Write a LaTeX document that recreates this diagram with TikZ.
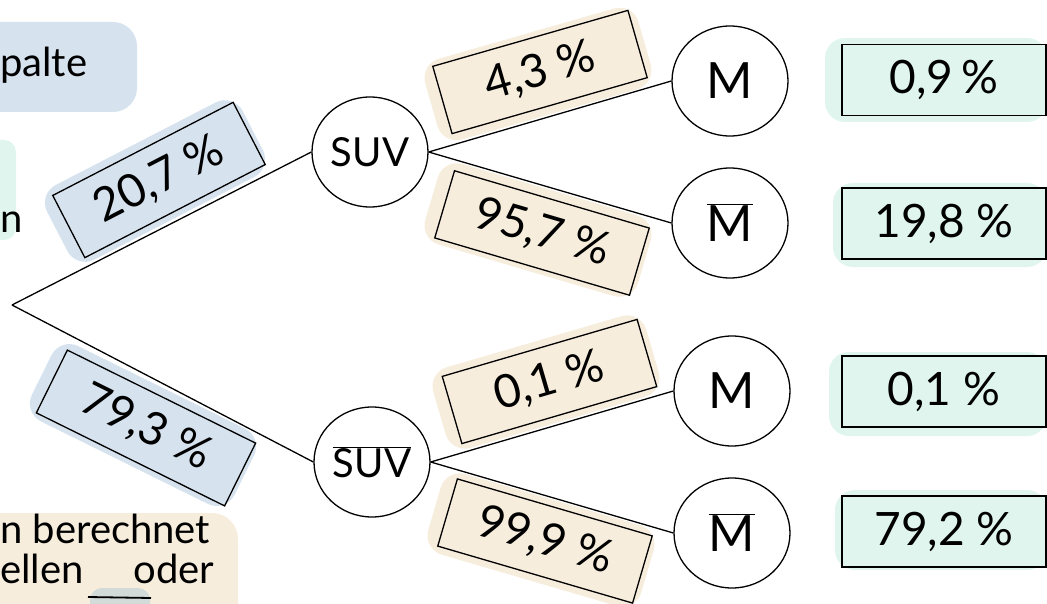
\documentclass[tikz,border=0pt]{standalone}
\usepackage{fontspec}
\setmainfont{Lato}
\usetikzlibrary{shapes.geometric}
\definecolor{blueblob}{HTML}{D6E2EE}
\definecolor{beigeblob}{HTML}{F6EDDD}
\definecolor{mintblob}{HTML}{DFF5EE}
\definecolor{grayblob}{HTML}{D2DBD8}
\begin{document}
\begin{tikzpicture}[x=1pt,y=-1pt,
  state/.style={ellipse, draw, line width=1.3pt, minimum width=116pt, minimum height=110pt, inner sep=0pt, font=\fontsize{40}{44}\selectfont},
  letter/.style={state, font=\fontsize{50}{54}\selectfont},
  probbox/.style={rectangle, draw, line width=1.3pt, minimum width=203pt, minimum height=70pt, inner sep=0pt, font=\fontsize{46}{50}\selectfont},
  resbox/.style={rectangle, draw, line width=1.4pt, minimum width=204pt, minimum height=71pt, inner sep=0pt, fill=mintblob, font=\fontsize{46}{50}\selectfont},
  blob/.style={rounded corners=20pt},
  note/.style={font=\fontsize{40}{44}\selectfont, inner sep=0pt},
  conn/.style={line width=1.3pt}
]
\useasboundingbox (0,0) rectangle (1047,604);

% side notes (cut off at the picture edge)
\fill[blueblob, rounded corners=24pt] (-30,22) rectangle (137,112);
\node[note, anchor=base west] (notetop) at (0,77) {palte};
\fill[mintblob, rounded corners=12pt] (-30,140) rectangle (16,240);
\node[note, anchor=base west] (notemid) at (0,233) {n};
\fill[beigeblob, rounded corners=26pt] (-30,513) rectangle (238,650);
\node[note, anchor=base west] (notebot1) at (0,543) {n berechnet};
\node[note, anchor=base west] (notebot2) at (0,583) {ellen\hspace{50pt}oder};
\fill[grayblob, rounded corners=12pt] (90,588) rectangle (150,625);
\draw[line width=1.8pt] (88,597) -- (151,598);

% blobs behind the probability boxes
\fill[blueblob, blob, rotate around={27.3:(155,181)}] (45,139) rectangle (265,223);
\fill[blueblob, blob, rotate around={-26.3:(143,425)}] (30,383) rectangle (256,467);
\fill[beigeblob, blob, rotate around={16:(538,74)}] (427,32) rectangle (649,116);
\fill[beigeblob, blob, rotate around={-16.4:(538,230)}] (427,188) rectangle (649,272);
\fill[beigeblob, blob, rotate around={16.3:(546,382)}] (435,340) rectangle (657,424);
\fill[beigeblob, blob, rotate around={-16.3:(541,540)}] (430,498) rectangle (652,582);
% blobs behind the result boxes
\fill[mintblob, blob] (825,38) rectangle (1047,122);
\fill[mintblob, blob] (833,183) rectangle (1047,267);
\fill[mintblob, blob] (829,352) rectangle (1047,436);
\fill[mintblob, blob] (835,490) rectangle (1047,570);

% tree
\coordinate (root) at (12,305);
\node[state] (suv) at (370,152) {SUV};
\node[state] (suvbar) at (372,462) {$\overline{\hbox{SUV}}$};
\node[letter] (m1) at (730,81) {M};
\node[letter] (m2) at (730,223) {$\overline{\hbox{M}}$};
\node[letter] (m3) at (732,391) {M};
\node[letter] (m4) at (732,533) {$\overline{\hbox{M}}$};

\draw[conn] (root) -- (suv.west);
\draw[conn] (root) -- (suvbar.west);
\draw[conn] (suv.east) -- (m1.west);
\draw[conn] (suv.east) -- (m2.west);
\draw[conn] (suvbar.east) -- (m3.west);
\draw[conn] (suvbar.east) -- (m4.west);

% probability boxes
\node[probbox, fill=blueblob, rotate=27.3] (p1) at (159,180) {20,7 \%};
\node[probbox, fill=blueblob, rotate=-26.3, minimum width=210pt] (p2) at (146,428) {79,3 \%};
\node[probbox, fill=beigeblob, rotate=16] (p3) at (540,72) {4,3 \%};
\node[probbox, fill=beigeblob, rotate=-16.4] (p4) at (542,233) {95,7 \%};
\node[probbox, fill=beigeblob, rotate=16.3] (p5) at (549.5,381.5) {0,1 \%};
\node[probbox, fill=beigeblob, rotate=-16.3] (p6) at (545,541) {99,9 \%};

% result boxes
\node[resbox] (r1) at (944,80) {0,9\,\%};
\node[resbox] (r2) at (944,223.5) {19,8 \%};
\node[resbox] (r3) at (944,391.5) {0,1 \%};
\node[resbox] (r4) at (944,531.5) {79,2 \%};
\end{tikzpicture}
\end{document}
